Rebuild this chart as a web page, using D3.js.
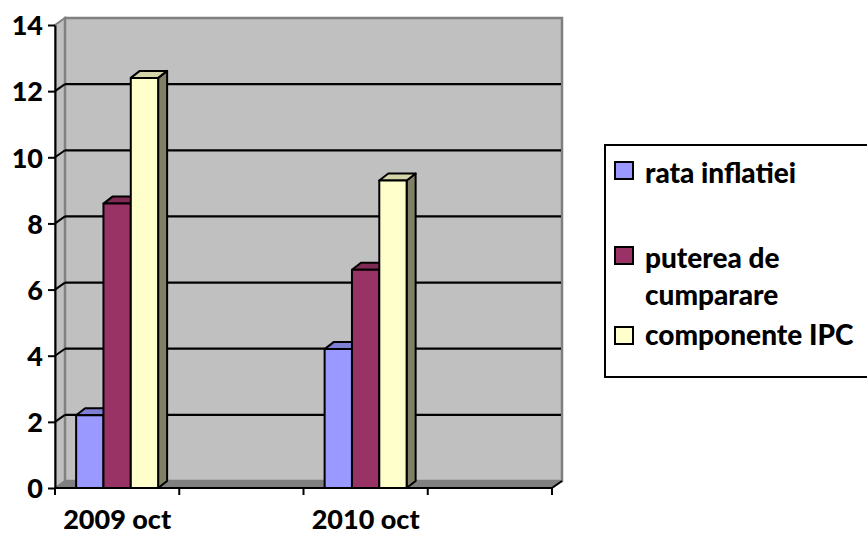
<!DOCTYPE html>
<html>
<head>
<meta charset="utf-8">
<script src="https://cdn.jsdelivr.net/npm/d3@7"></script>
<style>
  html, body { margin: 0; padding: 0; background: #fff; }
  svg { display: block; }
  text { font-family: Lato, "Open Sans", sans-serif; font-weight: 900; fill: #000; }
</style>
</head>
<body>
<svg id="chart" width="867" height="537"></svg>
<script>
// Categories along the x axis (two unlabeled slots keep the spacing)
const categories = ["2009 oct", "", "2010 oct", ""];
// Series names
const seriesNames = ["rata inflatiei", "puterea de cumparare", "componente IPC"];
// Series values per category
const rataInflatiei = [2.2, null, 4.2, null];
const putereaDeCumparare = [8.6, null, 6.6, null];
const componenteIPC = [12.4, null, 9.3, null];
// Y axis ticks
const yTicks = [0, 2, 4, 6, 8, 10, 12, 14];

const seriesValues = [rataInflatiei, putereaDeCumparare, componenteIPC];
const fronts = ["#9999FF", "#993366", "#FFFFCC"];
const tops = ["#7F7FD4", "#7F2A55", "#D4D4AA"];
const sides = ["#4C4C80", "#4C1933", "#808066"];

const svg = d3.select("#chart");

// front plane geometry
const x0 = 55, x1 = 552, yBase = 488, yTop = 25;
const DX = 10, DY = -7;      // wall depth
const BDX = 9, BDY = -7;     // bar depth

const y = d3.scaleLinear().domain([0, 14]).range([yBase, yTop]);
const x = d3.scaleBand().domain(d3.range(categories.length)).range([x0, x1]).paddingInner(0).paddingOuter(0);
const barW = x.bandwidth() * 0.22;
const inner = d3.scaleBand().domain(d3.range(seriesNames.length))
  .range([0, barW * seriesNames.length]);
const groupOffset = (x.bandwidth() - barW * seriesNames.length) / 2;

const pts = a => a.map(p => p.join(",")).join(" ");

// left side wall
svg.append("polygon")
  .attr("points", pts([[x0, y(14)], [x0 + DX, y(14) + DY], [x0 + DX, yBase + DY], [x0, yBase]]))
  .attr("fill", "#C0C0C0").attr("stroke", "#808080").attr("stroke-width", 2);

// back wall
svg.append("rect")
  .attr("x", x0 + DX).attr("y", y(14) + DY)
  .attr("width", (x1 + DX) - (x0 + DX)).attr("height", yBase - y(14))
  .attr("fill", "#C0C0C0").attr("stroke", "#808080").attr("stroke-width", 2.5);

// floor
svg.append("polygon")
  .attr("points", pts([[x0, yBase], [x1, yBase], [x1 + DX, yBase + DY], [x0 + DX, yBase + DY]]))
  .attr("fill", "#808080").attr("stroke", "#808080").attr("stroke-width", 1);

// gridlines: diagonal on the side wall, horizontal on the back wall
const gridVals = yTicks.filter(v => v > 0 && v < 14);
svg.append("g").selectAll("line.side").data(gridVals).join("line")
  .attr("x1", x0).attr("y1", d => y(d))
  .attr("x2", x0 + DX).attr("y2", d => y(d) + DY)
  .attr("stroke", "#000").attr("stroke-width", 2);
svg.append("g").selectAll("line.back").data(gridVals).join("line")
  .attr("x1", x0 + DX).attr("y1", d => y(d) + DY)
  .attr("x2", x1 + DX - 1).attr("y2", d => y(d) + DY)
  .attr("stroke", "#000").attr("stroke-width", 2.2);

// bars (front, top and side faces)
const barsG = svg.append("g");
categories.forEach((c, ci) => {
  seriesValues.forEach((vals, si) => {
    const v = vals[ci];
    if (v == null) return;
    const bx = x(ci) + groupOffset + inner(si);
    const by = y(v);
    const g = barsG.append("g").attr("stroke", "#000").attr("stroke-width", 2).attr("stroke-linejoin", "round");
    g.append("polygon").attr("fill", sides[si])
      .attr("points", pts([[bx + barW, by], [bx + barW + BDX, by + BDY], [bx + barW + BDX, yBase + BDY], [bx + barW, yBase]]));
    g.append("polygon").attr("fill", tops[si])
      .attr("points", pts([[bx, by], [bx + BDX, by + BDY], [bx + barW + BDX, by + BDY], [bx + barW, by]]));
    g.append("rect").attr("fill", fronts[si])
      .attr("x", bx).attr("y", by).attr("width", barW).attr("height", yBase - by);
  });
});

// y axis
const yAxis = d3.axisLeft(y).tickValues(yTicks).tickSize(7).tickPadding(5).tickSizeOuter(0);
const yg = svg.append("g").attr("transform", `translate(${x0},0)`).call(yAxis);
yg.select(".domain").attr("stroke", "#000").attr("stroke-width", 2);
yg.selectAll(".tick line").attr("stroke", "#000").attr("stroke-width", 2);
yg.selectAll(".tick text").style("font-size", "27px").style("font-family", "Lato, sans-serif")
  .style("font-weight", "900").attr("dy", "0.36em");

// x axis: ticks at category boundaries
const xg = svg.append("g");
xg.append("line").attr("x1", x0).attr("x2", x1).attr("y1", yBase).attr("y2", yBase)
  .attr("stroke", "#000").attr("stroke-width", 2);
const bounds = d3.range(categories.length + 1).map(i => x0 + i * x.bandwidth());
xg.selectAll("line.tk").data(bounds).join("line")
  .attr("x1", d => d).attr("x2", d => d).attr("y1", yBase).attr("y2", yBase + 7)
  .attr("stroke", "#000").attr("stroke-width", 2);
xg.append("line").attr("x1", x1).attr("y1", yBase).attr("x2", x1 + DX).attr("y2", yBase + DY)
  .attr("stroke", "#000").attr("stroke-width", 2);
xg.selectAll("text").data(categories).join("text")
  .attr("x", (d, i) => x(i) + x.bandwidth() / 2).attr("y", 529)
  .attr("text-anchor", "middle").style("font-size", "27px").text(d => d);

// legend
const lg = svg.append("g");
lg.append("rect").attr("x", 605).attr("y", 145).attr("width", 280).attr("height", 232)
  .attr("fill", "#fff").attr("stroke", "#000").attr("stroke-width", 2);
const legendRows = [
  { lines: ["rata inflatiei"], sy: 162, ty: 183 },
  { lines: ["puterea de", "cumparare"], sy: 247, ty: 268 },
  { lines: ["componente IPC"], sy: 327, ty: 345 }
];
legendRows.forEach((r, i) => {
  lg.append("rect").attr("x", 615).attr("y", r.sy).attr("width", 18).attr("height", 17)
    .attr("fill", fronts[i]).attr("stroke", "#000").attr("stroke-width", 2);
  const t = lg.append("text").attr("x", 645).attr("y", r.ty).style("font-size", "28px");
  r.lines.forEach((l, k) => t.append("tspan").attr("x", 645).attr("dy", k ? 37 : 0).text(l));
});
</script>
</body>
</html>
